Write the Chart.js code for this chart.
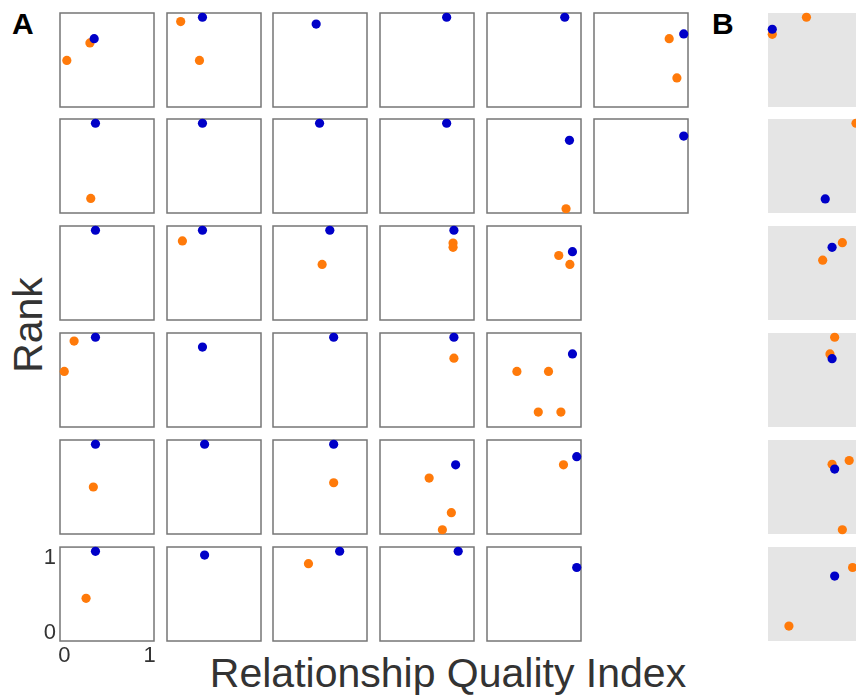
<!DOCTYPE html>
<html>
<head>
<meta charset="utf-8">
<script src="https://cdn.jsdelivr.net/npm/chart.js@4.4.0/dist/chart.umd.min.js"></script>
<style>
  html, body { margin: 0; padding: 0; background: #fff; }
  body { position: relative; width: 856px; height: 696px; overflow: hidden;
         font-family: "Liberation Sans", Arial, Helvetica, sans-serif; }
  canvas { position: absolute; }
  .txt { position: absolute; white-space: nowrap; line-height: 1; color: #333; }
  .panel-tag { font-weight: bold; font-size: 30px; color: #000; }
</style>
</head>
<body>
<div class="txt panel-tag" style="left:12px; top:9px;">A</div>
<div class="txt panel-tag" style="left:712px; top:9px;">B</div>
<div class="txt" style="left:28px; top:325px; font-size:41px; transform: translate(-50%,-50%) rotate(-90deg);">Rank</div>
<div class="txt" style="left:448px; top:653px; font-size:41px; transform: translateX(-50%);">Relationship Quality Index</div>

<script>
// one blue point per panel, [x, y], row by row (panel A)
const blueA = [
  [[0.35, 0.75], [0.365, 1.0], [0.455, 0.92], [0.73, 1.0], [0.86, 1.0], [1.0, 0.805]],
  [[0.365, 1.0], [0.365, 1.0], [0.495, 1.0], [0.73, 1.0], [0.915, 0.8], [1.0, 0.85]],
  [[0.365, 1.0], [0.365, 1.0], [0.615, 1.0], [0.815, 1.0], [0.95, 0.75]],
  [[0.365, 1.0], [0.365, 0.885], [0.66, 1.0], [0.815, 1.0], [0.95, 0.805]],
  [[0.365, 1.0], [0.39, 1.0], [0.66, 1.0], [0.835, 0.76], [1.0, 0.855]],
  [[0.365, 1.0], [0.39, 0.955], [0.73, 1.0], [0.865, 1.0], [1.0, 0.81]]
];

// orange points, list per panel (panel A)
const orangeA = [
  [[[0.30, 0.70], [0.03, 0.495]], [[0.11, 0.95], [0.33, 0.495]], [], [], [], [[0.83, 0.75], [0.92, 0.29]]],
  [[[0.31, 0.12]], [], [], [], [[0.875, 0.0]], []],
  [[], [[0.13, 0.875]], [[0.525, 0.60]], [[0.805, 0.85], [0.805, 0.80]], [[0.79, 0.705], [0.92, 0.60]]],
  [[[0.115, 0.955], [0.0, 0.60]], [], [], [[0.815, 0.755]], [[0.30, 0.60], [0.67, 0.60], [0.55, 0.125], [0.815, 0.125]]],
  [[[0.34, 0.50]], [], [[0.66, 0.55]], [[0.525, 0.605], [0.785, 0.20], [0.68, 0.0]], [[0.845, 0.76]]],
  [[[0.255, 0.45]], [], [[0.365, 0.855]], [], []]
];

// panel B column (one panel per row)
const blueB = [[0.0, 0.86], [0.62, 0.115], [0.70, 0.80], [0.70, 0.75], [0.73, 0.71], [0.73, 0.71]];
const orangeB = [
  [[0.0, 0.80], [0.40, 1.0]],
  [[0.98, 1.0]],
  [[0.82, 0.855], [0.59, 0.65]],
  [[0.73, 1.0], [0.675, 0.805]],
  [[0.70, 0.765], [0.90, 0.81], [0.82, 0.0]],
  [[0.94, 0.81], [0.195, 0.125]]
];

const xTicks = [0, 1];
const yTicks = [0, 1];

const BLUE = '#0000c8';
const ORANGE = '#ff7a0a';
const SIZE = 94, PAD = 10, AX_TOP = 18;
const AXIS_MIN = -0.05, AXIS_MAX = 1.05;

// draws the grey fill / frame of each small panel
const panelFrame = {
  id: 'panelFrame',
  beforeDatasetsDraw(chart, args, opts) {
    const { ctx, chartArea: a } = chart;
    ctx.save();
    if (opts.fill) {
      ctx.fillStyle = opts.fill;
      ctx.fillRect(a.left, a.top, a.width, a.height);
    }
    if (opts.stroke) {
      ctx.strokeStyle = opts.stroke;
      ctx.lineWidth = 1.5;
      ctx.strokeRect(a.left, a.top, a.width, a.height);
    }
    ctx.restore();
  }
};

function toPts(list) {
  return list.map(p => ({ x: p[0], y: p[1] }));
}

function makePanel(left, top, blue, orange, grey, withAxes) {
  const canvas = document.createElement('canvas');
  const extraL = withAxes ? 30 : PAD;
  const extraT = withAxes ? AX_TOP : PAD;
  const extraB = withAxes ? 32 : PAD;
  canvas.width = SIZE + extraL + PAD;
  canvas.height = SIZE + extraT + extraB;
  canvas.style.left = (left - extraL) + 'px';
  canvas.style.top = (top - extraT) + 'px';
  document.body.appendChild(canvas);

  const family = '"Liberation Sans", Arial, sans-serif';
  const xAxis = {
    type: 'linear', min: AXIS_MIN, max: AXIS_MAX, display: withAxes,
    grid: { display: false, drawTicks: false },
    border: { display: false },
    ticks: { font: { family, size: 22 }, color: '#333', padding: 2, autoSkip: false, maxRotation: 0 },
    afterBuildTicks: s => { s.ticks = xTicks.map(v => ({ value: v })); }
  };
  const yAxis = {
    type: 'linear', min: AXIS_MIN, max: AXIS_MAX, display: withAxes,
    grid: { display: false, drawTicks: false },
    border: { display: false },
    ticks: {
      color: '#333', padding: 4, autoSkip: false,
      // labels sit inward from their tick, as in the original figure
      callback: v => (v === 1 ? ['', '1'] : ['0', '']),
      font: c => ({ family, size: 22, lineHeight: c.tick && c.tick.value === 1 ? 0.64 : 0.36 })
    },
    afterBuildTicks: s => { s.ticks = yTicks.map(v => ({ value: v })); }
  };
  if (withAxes) {
    xAxis.afterFit = s => { s.height = 32; };
    yAxis.afterFit = s => { s.width = 30; };
  }

  new Chart(canvas.getContext('2d'), {
    type: 'scatter',
    data: {
      datasets: [
        { data: toPts([blue]), backgroundColor: BLUE, borderWidth: 0, pointRadius: 4.6, clip: false },
        { data: toPts(orange), backgroundColor: ORANGE, borderWidth: 0, pointRadius: 4.6, clip: false }
      ]
    },
    options: {
      responsive: false,
      animation: false,
      events: [],
      layout: { padding: withAxes ? { left: 0, top: AX_TOP, right: PAD, bottom: 0 } : PAD },
      plugins: {
        legend: { display: false },
        tooltip: { enabled: false },
        panelFrame: grey ? { fill: '#e5e5e5' } : { stroke: '#767676' }
      },
      scales: { x: xAxis, y: yAxis }
    },
    plugins: [panelFrame]
  });
}

const colLeft = c => Math.round(60 + c * 106.7);
const rowTop = r => Math.round(12.5 + r * 106.8);

blueA.forEach((row, r) => {
  row.forEach((b, c) => {
    makePanel(colLeft(c), rowTop(r), b, orangeA[r][c], false, r === 5 && c === 0);
  });
});

blueB.forEach((b, r) => {
  makePanel(768, rowTop(r), b, orangeB[r], true, false);
});
</script>
</body>
</html>
